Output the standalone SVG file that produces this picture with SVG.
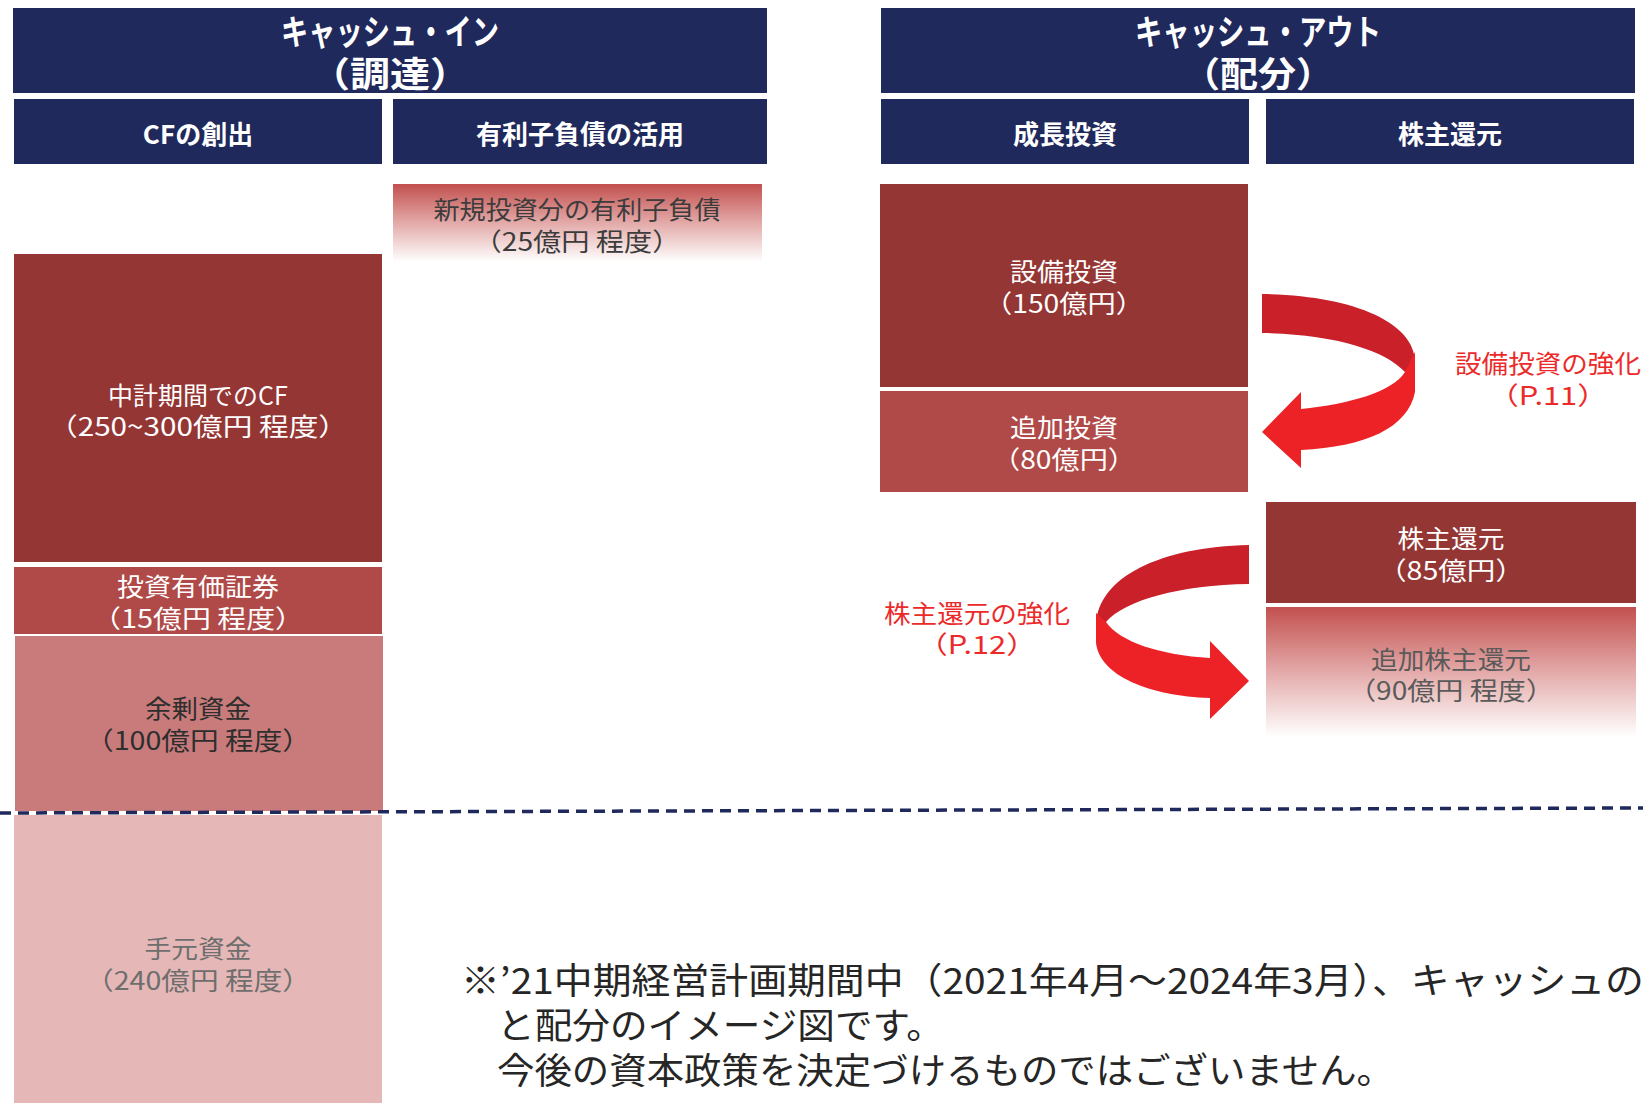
<svg xmlns="http://www.w3.org/2000/svg" width="1643" height="1103" viewBox="0 0 1643 1103">
<defs>
<linearGradient id="fadeRed" x1="0" y1="0" x2="0" y2="1">
<stop offset="0" stop-color="#c2504e"/>
<stop offset="0.5" stop-color="#e3aaa9"/>
<stop offset="1" stop-color="#ffffff"/>
</linearGradient>
<style>
.hdr{fill:#1f295c}
.t{font-family:"Noto Sans CJK JP","Noto Sans",sans-serif;text-anchor:middle;dominant-baseline:central}
.ttl{font-size:35px;font-weight:700;fill:#ffffff}
.sub{font-size:26px;font-weight:700;fill:#ffffff}
.bx{font-size:25px;font-weight:400}
.w{fill:#ffffff}
.red{fill:#ec2a2a}
.note{font-family:"Noto Sans CJK JP","Noto Sans",sans-serif;font-size:36px;fill:#262626;dominant-baseline:central}
.c1{fill:#943634}
.c2{fill:#b04a48}
.c3{fill:#c97b7b}
.c4{fill:#e5b8b7}
.arDark{fill:#c9202a}
.arBright{fill:#ec2227}
</style>
</defs>
<rect width="1643" height="1103" fill="#ffffff"/>

<g id="hdr-in">
<rect class="hdr" x="13" y="8" width="754" height="85"/>
<text class="t ttl"><tspan x="390" y="29" textLength="218" lengthAdjust="spacingAndGlyphs">キャッシュ・イン</tspan><tspan x="390" y="71" textLength="160" lengthAdjust="spacingAndGlyphs">（調達）</tspan></text>
</g>
<g id="hdr-out">
<rect class="hdr" x="881" y="8" width="754" height="85"/>
<text class="t ttl"><tspan x="1258" y="29" textLength="246" lengthAdjust="spacingAndGlyphs">キャッシュ・アウト</tspan><tspan x="1258" y="71" textLength="152" lengthAdjust="spacingAndGlyphs">（配分）</tspan></text>
</g>
<g id="sub-cf">
<rect class="hdr" x="14" y="99" width="368" height="65"/>
<text class="t sub" x="198" y="132">CFの創出</text>
</g>
<g id="sub-debt">
<rect class="hdr" x="393" y="99" width="374" height="65"/>
<text class="t sub" x="580" y="132">有利子負債の活用</text>
</g>
<g id="sub-growth">
<rect class="hdr" x="881" y="99" width="368" height="65"/>
<text class="t sub" x="1065" y="132">成長投資</text>
</g>
<g id="sub-return">
<rect class="hdr" x="1266" y="99" width="368" height="65"/>
<text class="t sub" x="1450" y="132">株主還元</text>
</g>

<g id="node-debt">
<rect x="393" y="184" width="369" height="78" fill="url(#fadeRed)"/>
<text class="t bx" fill="#3c3c3c"><tspan x="577" y="208" textLength="287" lengthAdjust="spacingAndGlyphs">新規投資分の有利子負債</tspan><tspan x="577" y="240" textLength="207" lengthAdjust="spacingAndGlyphs">（25億円 程度）</tspan></text>
</g>
<g id="node-cf">
<rect class="c1" x="14" y="254" width="368" height="308"/>
<text class="t bx w"><tspan x="198" y="394">中計期間でのCF</tspan><tspan x="198" y="425" textLength="300" lengthAdjust="spacingAndGlyphs">（250~300億円 程度）</tspan></text>
</g>
<g id="node-securities">
<rect class="c2" x="14" y="567" width="368" height="67"/>
<text class="t bx w"><tspan x="198" y="585" textLength="162" lengthAdjust="spacingAndGlyphs">投資有価証券</tspan><tspan x="198" y="617" textLength="212" lengthAdjust="spacingAndGlyphs">（15億円 程度）</tspan></text>
</g>
<g id="node-surplus">
<rect class="c3" x="15" y="636" width="368" height="175"/>
<text class="t bx" fill="#2e2e2e"><tspan x="198" y="707" textLength="106" lengthAdjust="spacingAndGlyphs">余剰資金</tspan><tspan x="198" y="739" textLength="226" lengthAdjust="spacingAndGlyphs">（100億円 程度）</tspan></text>
</g>
<g id="node-cash">
<rect class="c4" x="14" y="815" width="368" height="288"/>
<text class="t bx" fill="#6e6e6e"><tspan x="198" y="947" textLength="107" lengthAdjust="spacingAndGlyphs">手元資金</tspan><tspan x="198" y="979" textLength="226" lengthAdjust="spacingAndGlyphs">（240億円 程度）</tspan></text>
</g>

<g id="node-capex">
<rect class="c1" x="880" y="184" width="368" height="203"/>
<text class="t bx w"><tspan x="1064" y="270" textLength="108" lengthAdjust="spacingAndGlyphs">設備投資</tspan><tspan x="1064" y="302" textLength="160" lengthAdjust="spacingAndGlyphs">（150億円）</tspan></text>
</g>
<g id="node-addinv">
<rect class="c2" x="880" y="391" width="368" height="101"/>
<text class="t bx w"><tspan x="1064" y="426" textLength="108" lengthAdjust="spacingAndGlyphs">追加投資</tspan><tspan x="1064" y="458" textLength="144" lengthAdjust="spacingAndGlyphs">（80億円）</tspan></text>
</g>
<g id="node-return">
<rect class="c1" x="1266" y="502" width="370" height="101"/>
<text class="t bx w"><tspan x="1451" y="537" textLength="107" lengthAdjust="spacingAndGlyphs">株主還元</tspan><tspan x="1451" y="569" textLength="146" lengthAdjust="spacingAndGlyphs">（85億円）</tspan></text>
</g>
<g id="node-addreturn">
<rect x="1266" y="607" width="370" height="130" fill="url(#fadeRed)"/>
<text class="t bx" fill="#5a5a5a"><tspan x="1451" y="658" textLength="160" lengthAdjust="spacingAndGlyphs">追加株主還元</tspan><tspan x="1451" y="689" textLength="206" lengthAdjust="spacingAndGlyphs">（90億円 程度）</tspan></text>
</g>

<g id="label-capex">
<text class="t bx red"><tspan x="1548" y="362" textLength="186" lengthAdjust="spacingAndGlyphs">設備投資の強化</tspan><tspan x="1548" y="394" textLength="120" lengthAdjust="spacingAndGlyphs">（P.11）</tspan></text>
</g>
<g id="label-return">
<text class="t bx red"><tspan x="977" y="612" textLength="186" lengthAdjust="spacingAndGlyphs">株主還元の強化</tspan><tspan x="977" y="643" textLength="120" lengthAdjust="spacingAndGlyphs">（P.12）</tspan></text>
</g>

<line id="divider" x1="0" y1="813" x2="1643" y2="808" stroke="#1f295c" stroke-width="3.5" stroke-dasharray="11 7"/>

<g id="connectors">
<path class="arDark" d="M1262,294 C1352,295 1415,322 1415,362 L1405,372 C1385,350 1333,334 1262,333 Z"/>
<path class="arBright" d="M1415,352 L1415,392 C1408,428 1365,447 1301,450 L1301,468 L1262,432 L1301,392 L1301,409 C1350,404 1392,392 1405,372 Z"/>
<path class="arDark" d="M1249,545 C1160,547 1098,577 1096,625 L1106,622 C1125,600 1180,585 1249,584 Z"/>
<path class="arBright" d="M1096,613 L1096,643 C1100,676 1150,696 1210,698 L1210,719 L1249,681 L1210,641 L1210,658 C1160,655 1120,642 1106,622 Z"/>
</g>

<g id="footnote">
<text class="note"><tspan x="461" y="978" textLength="1183" lengthAdjust="spacingAndGlyphs">※’21中期経営計画期間中（2021年4月～2024年3月）、キャッシュの</tspan><tspan x="497" y="1023" textLength="447" lengthAdjust="spacingAndGlyphs">と配分のイメージ図です。</tspan><tspan x="497" y="1068" textLength="897" lengthAdjust="spacingAndGlyphs">今後の資本政策を決定づけるものではございません。</tspan></text>
</g>
</svg>
